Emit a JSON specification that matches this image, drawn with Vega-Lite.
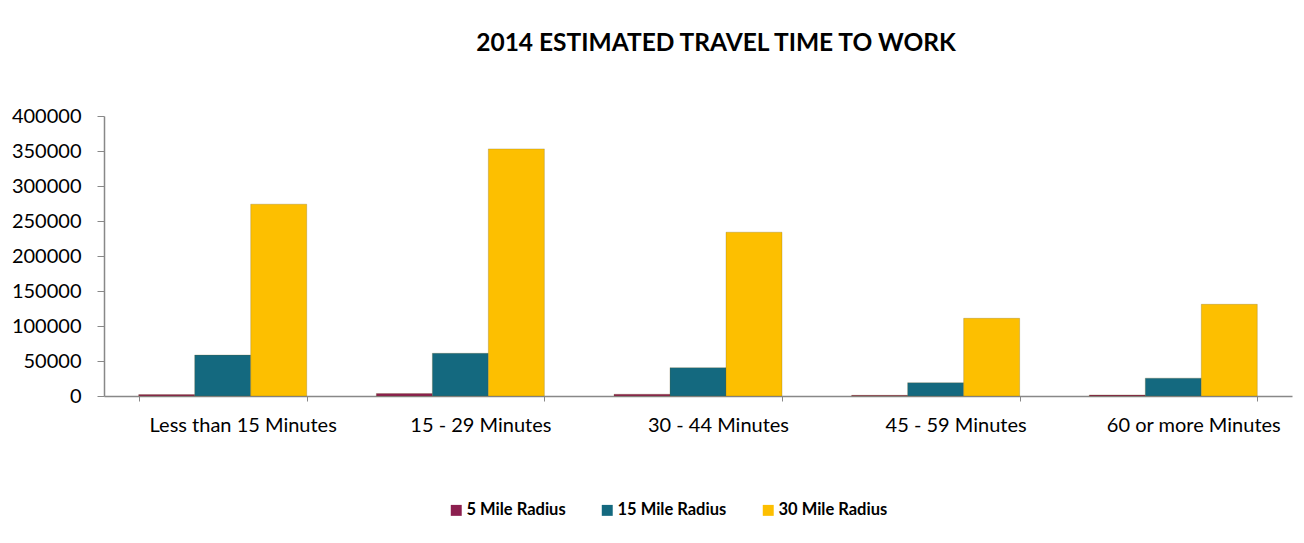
{
  "$schema": "https://vega.github.io/schema/vega-lite/v6.json",
  "autosize": {"type": "none"},
  "width": 1188,
  "height": 280,
  "padding": {"left": 104, "top": 116, "right": 12, "bottom": 147},
  "background": "white",
  "title": {
    "text": "2014 ESTIMATED TRAVEL TIME TO WORK",
    "font": "Lato",
    "fontSize": 24.5,
    "fontWeight": "bold",
    "color": "#000000",
    "anchor": "middle",
    "dx": 18,
    "offset": 50
  },
  "data": {
    "values": [
      {"category": "Less than 15 Minutes", "series": "5 Mile Radius", "value": 2000},
      {"category": "Less than 15 Minutes", "series": "15 Mile Radius", "value": 58500},
      {"category": "Less than 15 Minutes", "series": "30 Mile Radius", "value": 274000},
      {"category": "15 - 29 Minutes", "series": "5 Mile Radius", "value": 3500},
      {"category": "15 - 29 Minutes", "series": "15 Mile Radius", "value": 61000},
      {"category": "15 - 29 Minutes", "series": "30 Mile Radius", "value": 353000},
      {"category": "30 - 44 Minutes", "series": "5 Mile Radius", "value": 2500},
      {"category": "30 - 44 Minutes", "series": "15 Mile Radius", "value": 40500},
      {"category": "30 - 44 Minutes", "series": "30 Mile Radius", "value": 234000},
      {"category": "45 - 59 Minutes", "series": "5 Mile Radius", "value": 1000},
      {"category": "45 - 59 Minutes", "series": "15 Mile Radius", "value": 19000},
      {"category": "45 - 59 Minutes", "series": "30 Mile Radius", "value": 111000},
      {"category": "60 or more Minutes", "series": "5 Mile Radius", "value": 1500},
      {"category": "60 or more Minutes", "series": "15 Mile Radius", "value": 25500},
      {"category": "60 or more Minutes", "series": "30 Mile Radius", "value": 131000}
    ]
  },
  "mark": {"type": "bar", "stroke": "#6b5a20", "strokeWidth": 0.5, "strokeOpacity": 0.5},
  "encoding": {
    "x": {
      "field": "category",
      "type": "nominal",
      "sort": null,
      "scale": {"paddingInner": 0.293, "paddingOuter": 0.146},
      "axis": {
        "title": null,
        "labelAngle": 0,
        "labelFont": "Lato",
        "labelFontSize": 20,
        "labelColor": "#000000",
        "labelOffset": 20,
        "labelPadding": 14,
        "labelLimit": 0,
        "labelOverlap": false,
        "tickBand": "extent",
        "tickSize": 5,
        "tickColor": "#888888",
        "domainColor": "#888888",
        "domainWidth": 1.5
      }
    },
    "xOffset": {
      "field": "series",
      "type": "nominal",
      "sort": ["5 Mile Radius", "15 Mile Radius", "30 Mile Radius"],
      "scale": {"paddingInner": 0, "paddingOuter": 0}
    },
    "y": {
      "field": "value",
      "type": "quantitative",
      "scale": {"domain": [0, 400000], "nice": false},
      "axis": {
        "title": null,
        "values": [0, 50000, 100000, 150000, 200000, 250000, 300000, 350000, 400000],
        "format": "d",
        "grid": false,
        "labelFont": "Lato",
        "labelFontSize": 20,
        "labelColor": "#000000",
        "labelPadding": 16,
        "tickSize": 7,
        "tickColor": "#888888",
        "domainColor": "#888888",
        "domainWidth": 1.5
      }
    },
    "color": {
      "field": "series",
      "type": "nominal",
      "sort": ["5 Mile Radius", "15 Mile Radius", "30 Mile Radius"],
      "scale": {
        "domain": ["5 Mile Radius", "15 Mile Radius", "30 Mile Radius"],
        "range": ["#8C1F4F", "#14697F", "#FDBF00"]
      },
      "legend": {
        "title": null,
        "orient": "none",
        "direction": "horizontal",
        "legendX": 344,
        "legendY": 386,
        "symbolType": "square",
        "symbolSize": 120,
        "symbolStrokeWidth": 0,
        "labelFont": "Lato",
        "labelFontSize": 16.5,
        "labelFontWeight": "bold",
        "labelColor": "#000000",
        "labelOffset": 2,
        "columnPadding": 33
      }
    }
  },
  "config": {"view": {"stroke": null}}
}
